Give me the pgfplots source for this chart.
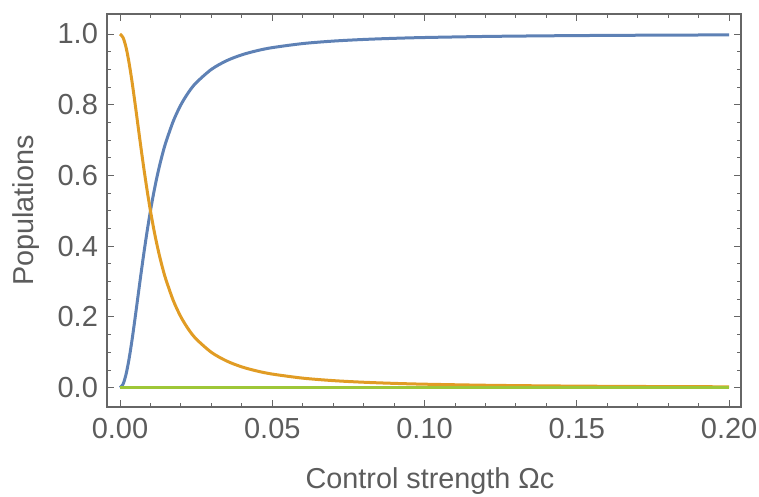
\documentclass[border=0pt]{standalone}
\usepackage{pgfplots}
\pgfplotsset{compat=1.18}
\usepackage{fontspec}
\setmainfont{Liberation Sans}
\definecolor{mblue}{rgb}{0.368417,0.506779,0.709798}
\definecolor{morange}{rgb}{0.880722,0.611041,0.142051}
\definecolor{mgreen}{rgb}{0.62,0.78,0.22}
\definecolor{framegray}{gray}{0.40}
\definecolor{labgray}{gray}{0.36}
\begin{document}
\begin{tikzpicture}
\begin{axis}[
  name=ax,
  scale only axis,
  width=317pt, height=196.5pt,
  xmin=-0.00427, xmax=0.2039,
  ymin=-0.0546, ymax=1.0566,
  axis line style={framegray, line width=0.7pt},
  tick style={framegray, line width=0.5pt},
  major tick length=3.5pt,
  minor tick length=2pt,
  tick align=inside,
  xtick={0,0.05,0.1,0.15,0.2},
  ytick={0,0.2,0.4,0.6,0.8,1.0},
  minor xtick={0.01,0.02,0.03,0.04,0.06,0.07,0.08,0.09,0.11,0.12,0.13,0.14,0.16,0.17,0.18,0.19},
  minor ytick={0.05,0.1,0.15,0.25,0.3,0.35,0.45,0.5,0.55,0.65,0.7,0.75,0.85,0.9,0.95},
  /pgf/number format/assume math mode=true,
  xticklabel style={/pgf/number format/fixed, /pgf/number format/fixed zerofill, /pgf/number format/precision=2, yshift=-2pt},
  yticklabel style={/pgf/number format/fixed, /pgf/number format/fixed zerofill, /pgf/number format/precision=1, xshift=-1pt},
  scaled x ticks=false,
  ticklabel style={font=\fontsize{14.5}{17}\selectfont, text=labgray},
  label style={font=\fontsize{14.4}{17}\selectfont, text=labgray},
  xlabel={Control strength Ωc},
  ylabel={Populations},
  xlabel style={yshift=-7.5pt, xshift=3pt},
  ylabel style={yshift=2pt},
  clip=true,
]
\addplot[mblue, line width=1.5pt, smooth] coordinates {
(0,0) (0.001,0.0099) (0.002,0.0385) (0.003,0.0826) (0.004,0.1379) (0.005,0.2)
(0.006,0.2647) (0.007,0.3289) (0.008,0.3902) (0.009,0.4475) (0.010,0.5)
(0.011,0.5475) (0.012,0.5902) (0.013,0.6283) (0.014,0.6622) (0.015,0.6923)
(0.0175,0.7538) (0.02,0.8) (0.0225,0.8351) (0.025,0.8621) (0.03,0.9)
(0.035,0.9245) (0.04,0.9412) (0.045,0.9529) (0.05,0.9615) (0.06,0.9730)
(0.07,0.98) (0.08,0.9846) (0.09,0.9878) (0.10,0.9901) (0.12,0.9931)
(0.14,0.9949) (0.16,0.9961) (0.18,0.9969) (0.20,0.9975)
};
\addplot[morange, line width=1.5pt, smooth] coordinates {
(0,1) (0.001,0.9901) (0.002,0.9615) (0.003,0.9174) (0.004,0.8621) (0.005,0.8)
(0.006,0.7353) (0.007,0.6711) (0.008,0.6098) (0.009,0.5525) (0.010,0.5)
(0.011,0.4525) (0.012,0.4098) (0.013,0.3717) (0.014,0.3378) (0.015,0.3077)
(0.0175,0.2462) (0.02,0.2) (0.0225,0.1649) (0.025,0.1379) (0.03,0.1)
(0.035,0.0755) (0.04,0.0588) (0.045,0.0471) (0.05,0.0385) (0.06,0.0270)
(0.07,0.02) (0.08,0.0154) (0.09,0.0122) (0.10,0.0099) (0.12,0.0069)
(0.14,0.0051) (0.16,0.0039) (0.18,0.0031) (0.20,0.0025)
};
\addplot[mgreen, line width=1.5pt] coordinates {
(0,0) (0.05,0) (0.10,0) (0.15,0) (0.20,0)
};
\end{axis}
\pgfresetboundingbox
\path[use as bounding box] ([shift={(-53.5pt,-45pt)}]ax.south west) rectangle ([shift={(9pt,7pt)}]ax.north east);
\end{tikzpicture}
\end{document}
